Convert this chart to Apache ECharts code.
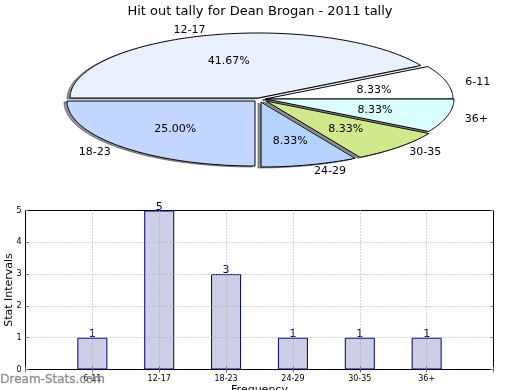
<!DOCTYPE html>
<html>
<head>
<meta charset="utf-8">
<style>
  html, body { margin: 0; padding: 0; background: #fff; }
  #chart { width: 520px; height: 390px; }
</style>
<script src="https://cdn.jsdelivr.net/npm/echarts@6/dist/echarts.min.js"></script>
</head>
<body>
<div id="chart"></div>
<script>
const categories = ['6-11', '12-17', '18-23', '24-29', '30-35', '36+']
const tallyValues = [1, 5, 3, 1, 1, 1]
const yTicks = [0, 1, 2, 3, 4, 5]

// wedge look, same order as categories
const wedgeColors = ['#ffffff', '#e9f1ff', '#c2d6ff', '#b4d4ff', '#cfe98b', '#d9ffff']
const wedgeShift = [[5, 0], [-2, -1], [-5, 2], [1, 3], [6, 2], [6, 0]]
const labelShift = [[5.5, 2], [-1, 0], [-3, 3], [0.5, 3], [3, 3], [5, 2]]

const FONT = 'DejaVu Sans'
const pieCenter = [260, 99]
const pieRx = 188
const pieRy = 65
const total = tallyValues.reduce((a, b) => a + b, 0)

// 椭圆扇形，ECharts 的 pie 只能画正圆，所以用 custom 自己画
function wedgePoints(cx, cy, from, to) {
  const pts = [[cx, cy]]
  for (let a = from; a <= to + 0.001; a += 1) {
    const r = (a * Math.PI) / 180
    pts.push([cx + pieRx * Math.cos(r), cy - pieRy * Math.sin(r)])
  }
  return pts
}

function renderWedge(params, api) {
  const i = params.dataIndex
  const value = api.value(0)
  let from = 0
  for (let k = 0; k < i; k++) from += (tallyValues[k] / total) * 360
  const to = from + (value / total) * 360
  const mid = ((from + to) / 2) * Math.PI / 180
  const cx = pieCenter[0] + wedgeShift[i][0]
  const cy = pieCenter[1] + wedgeShift[i][1]
  const cos = Math.cos(mid)
  const sin = Math.sin(mid)
  return {
    type: 'group',
    children: [
      {
        type: 'polygon',
        shape: { points: wedgePoints(cx - 3, cy + 1, from, to) },
        style: { fill: 'rgba(60,60,60,0.55)', stroke: 'rgba(60,60,60,0.55)', lineWidth: 1 },
      },
      {
        type: 'polygon',
        shape: { points: wedgePoints(cx, cy, from, to) },
        style: { fill: wedgeColors[i], stroke: '#000', lineWidth: 1 },
      },
      {
        type: 'text',
        style: {
          x: cx + 0.6 * pieRx * cos,
          y: cy - 0.6 * pieRy * sin + 1,
          text: ((value / total) * 100).toFixed(2) + '%',
          fill: '#000',
          font: '11px ' + FONT,
          textAlign: 'center',
          textVerticalAlign: 'middle',
        },
      },
      {
        type: 'text',
        style: {
          x: pieCenter[0] + labelShift[i][0] + 1.1 * pieRx * cos,
          y: pieCenter[1] + labelShift[i][1] - 1.1 * pieRy * sin,
          text: categories[i],
          fill: '#000',
          font: '11px ' + FONT,
          textAlign: cos > 0 ? 'left' : 'right',
          textVerticalAlign: 'middle',
        },
      },
    ],
  }
}

const myChart = echarts.init(document.getElementById('chart'))

const slots = ['', ...categories, '']
const tickStyle = { show: true, inside: true, length: 3, lineStyle: { color: '#777', width: 1 } }
const gridLine = {
  show: true,
  showMinLine: false,
  showMaxLine: false,
  lineStyle: { color: '#aaa', width: 1, type: [1, 2] },
}

myChart.setOption({
  animation: false,
  backgroundColor: '#fff',
  title: {
    text: 'Hit out tally for Dean Brogan - 2011 tally',
    left: 'center',
    top: 0,
    textStyle: { fontFamily: FONT, fontSize: 13, fontWeight: 'normal', color: '#000' },
  },
  grid: {
    left: 25.5,
    right: 26.5,
    top: 210.5,
    bottom: 20.5,
    outerBoundsMode: 'none',
    show: true,
    backgroundColor: 'transparent',
    borderColor: '#000',
    borderWidth: 1,
  },
  xAxis: [
    {
      type: 'category',
      data: slots,
      boundaryGap: false,
      z: 3,
      axisLine: { show: false },
      axisTick: { ...tickStyle, interval: 0 },
      splitLine: { ...gridLine, interval: 0 },
      axisLabel: { interval: 0, fontFamily: FONT, fontSize: 8, color: '#000', margin: 5 },
      name: 'Frequency',
      nameLocation: 'middle',
      nameGap: 15,
      nameTextStyle: { fontFamily: FONT, fontSize: 11, color: '#000' },
    },
    {
      type: 'category',
      position: 'top',
      data: slots,
      boundaryGap: false,
      axisLine: { show: false },
      axisTick: { ...tickStyle, interval: 0 },
      axisLabel: { show: false },
      splitLine: { show: false },
    },
  ],
  yAxis: [
    {
      type: 'value',
      min: yTicks[0],
      max: yTicks[yTicks.length - 1],
      interval: 1,
      z: 3,
      axisLine: { show: false },
      axisTick: tickStyle,
      splitLine: gridLine,
      axisLabel: { fontFamily: FONT, fontSize: 8, color: '#000', margin: 4 },
      name: 'Stat Intervals',
      nameLocation: 'middle',
      nameGap: 16,
      nameMoveOverlap: false,
      nameTextStyle: { fontFamily: FONT, fontSize: 11, color: '#000', verticalAlign: 'middle' },
    },
    {
      type: 'value',
      position: 'right',
      min: yTicks[0],
      max: yTicks[yTicks.length - 1],
      interval: 1,
      axisLine: { show: false },
      axisTick: tickStyle,
      axisLabel: { show: false },
      splitLine: { show: false },
    },
  ],
  graphic: [
    {
      type: 'text',
      left: 0,
      top: 374,
      z: 10,
      style: {
        text: 'Dream-Stats.com',
        fill: 'rgba(120,120,120,0.8)',
        stroke: 'rgba(120,120,120,0.5)',
        lineWidth: 0.5,
        font: '12px ' + FONT,
      },
    },
  ],
  series: [
    {
      type: 'custom',
      coordinateSystem: 'none',
      silent: true,
      renderItem: renderWedge,
      data: tallyValues.map((v) => [v]),
    },
    {
      type: 'bar',
      data: [null, ...tallyValues, null],
      barWidth: 30,
      silent: true,
      itemStyle: { color: '#cdcfe6', borderColor: '#00007f', borderWidth: 1 },
      label: {
        show: true,
        position: 'top',
        distance: -2,
        fontFamily: FONT,
        fontSize: 11,
        color: '#00007f',
      },
    },
  ],
})
</script>
</body>
</html>
